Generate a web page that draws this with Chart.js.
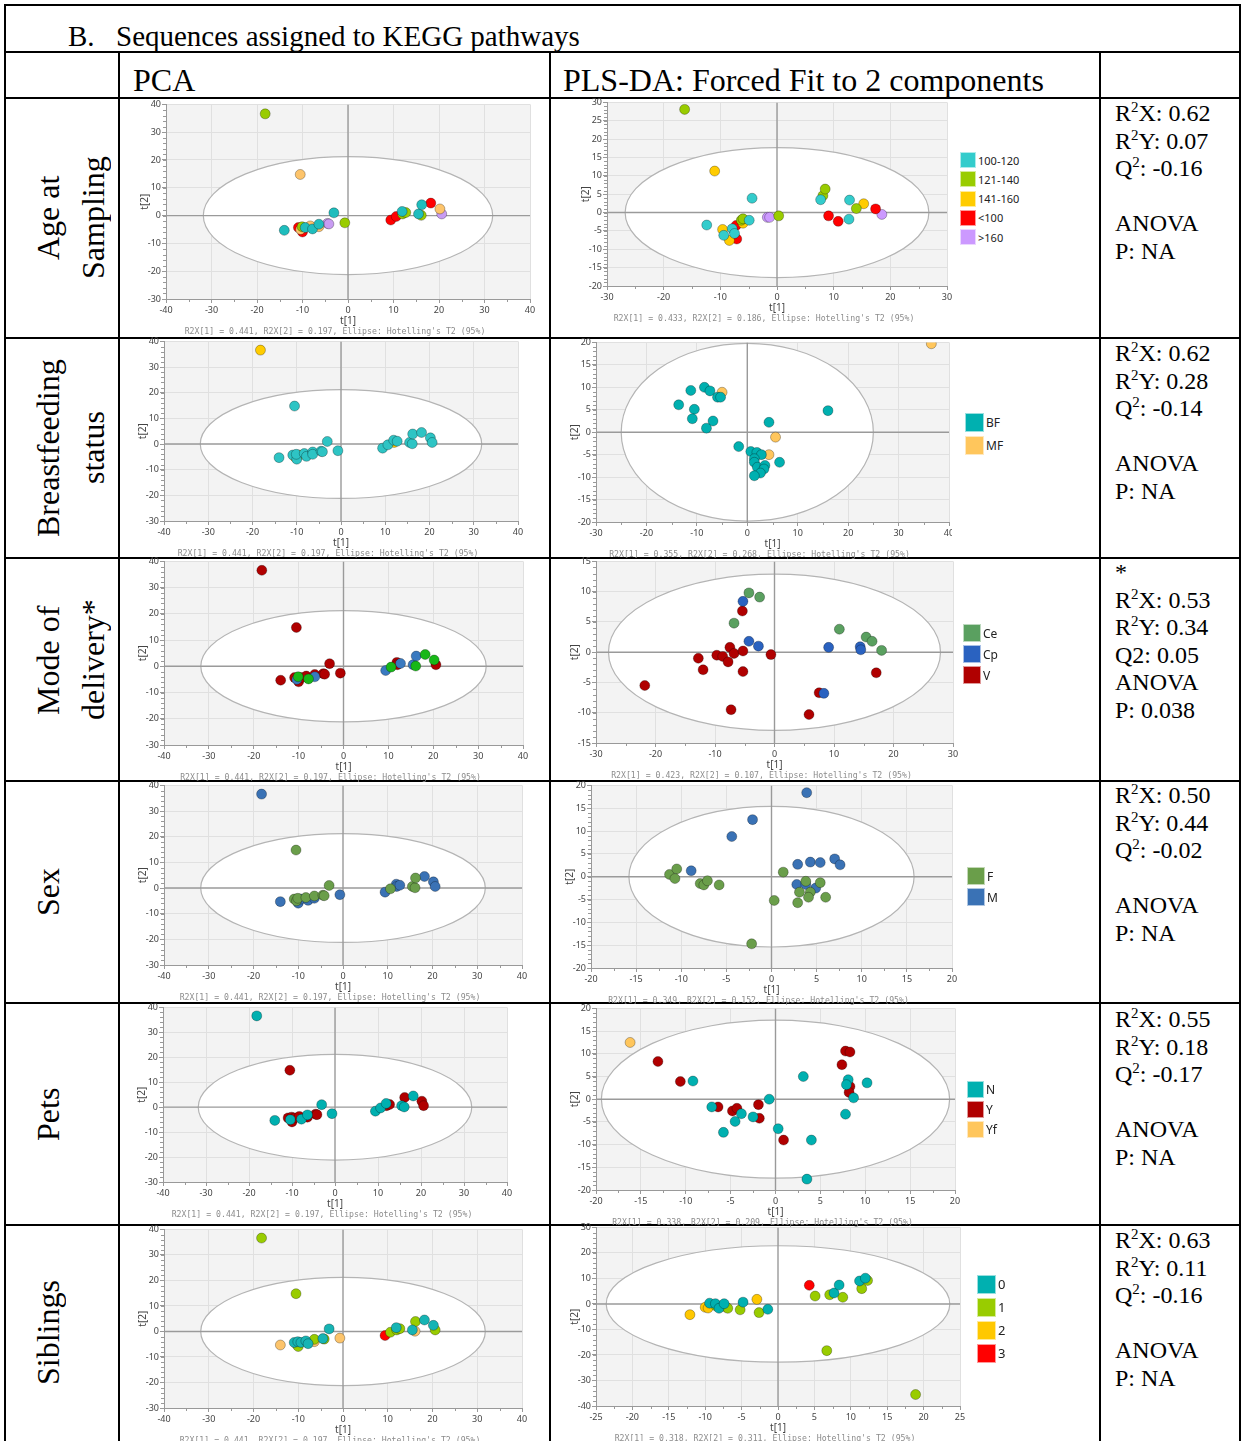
<!DOCTYPE html>
<html>
<head>
<meta charset="utf-8">
<script src="https://cdn.jsdelivr.net/npm/chart.js@4.4.0/dist/chart.umd.min.js"></script>
<style>
body { margin: 0; width: 1241px; height: 1441px; position: relative; overflow: hidden; background: #fff; font-family: 'Liberation Serif', 'Times New Roman', serif; color: #000; }
.hl { position: absolute; height: 1.5px; background: #000; }
.vl { position: absolute; width: 1.5px; background: #000; }
.txt { position: absolute; white-space: nowrap; }
.rowlab { position: absolute; left: 26px; writing-mode: vertical-rl; transform: rotate(180deg); text-align: center; font-size: 32px; line-height: 45px; white-space: nowrap; }
.stats { position: absolute; left: 1115px; font-size: 24px; line-height: 27.6px; white-space: nowrap; }
.s2 { font-size: 15px; line-height: 0; position: relative; top: -9px; }
.chartbox { position: absolute; overflow: hidden; }
.leg { position: absolute; display: flex; align-items: center; font-family: 'Noto Sans', sans-serif; color: #222; white-space: nowrap; }
.leg span { display: inline-block; box-sizing: border-box; border: 1px solid rgba(255,255,255,0.6); margin-right: 2px; }
</style>
</head>
<body>

<!-- table lines -->
<div class="hl" style="left:5px;width:1236px;top:4px"></div>
<div class="hl" style="left:5px;width:1236px;top:51px"></div>
<div class="hl" style="left:5px;width:1236px;top:97px"></div>
<div class="hl" style="left:5px;width:1236px;top:337px"></div>
<div class="hl" style="left:5px;width:1236px;top:557px"></div>
<div class="hl" style="left:5px;width:1236px;top:780px"></div>
<div class="hl" style="left:5px;width:1236px;top:1002px"></div>
<div class="hl" style="left:5px;width:1236px;top:1224px"></div>
<div class="vl" style="left:4px;top:4px;height:1437px"></div>
<div class="vl" style="left:118px;top:51px;height:1390px"></div>
<div class="vl" style="left:549px;top:51px;height:1390px"></div>
<div class="vl" style="left:1099px;top:51px;height:1390px"></div>
<div class="vl" style="left:1239px;top:4px;height:1437px"></div>

<div class="txt" style="left:68px;top:19px;font-size:29px;line-height:34px">B.</div>
<div class="txt" style="left:116px;top:19px;font-size:29px;line-height:34px">Sequences assigned to KEGG pathways</div>
<div class="txt" style="left:133px;top:60px;font-size:32px;line-height:40px">PCA</div>
<div class="txt" style="left:563px;top:60px;font-size:32px;line-height:40px">PLS-DA: Forced Fit to 2 components</div>

<div class="rowlab" style="top:98px;height:240px">Age at<br>Sampling</div>
<div class="rowlab" style="top:338px;height:220px">Breastfeeding<br>status</div>
<div class="rowlab" style="top:558px;height:204px">Mode of<br>delivery*</div>
<div class="rowlab" style="top:781px;height:223px">Sex</div>
<div class="rowlab" style="top:1003px;height:222px">Pets</div>
<div class="rowlab" style="top:1225px;height:216px">Siblings</div>

<div class="stats" style="top:100px">R<span class="s2">2</span>X: 0.62<br>R<span class="s2">2</span>Y: 0.07<br>Q<span class="s2">2</span>: -0.16<br><br>ANOVA<br>P: NA</div>
<div class="stats" style="top:340px">R<span class="s2">2</span>X: 0.62<br>R<span class="s2">2</span>Y: 0.28<br>Q<span class="s2">2</span>: -0.14<br><br>ANOVA<br>P: NA</div>
<div class="stats" style="top:559px">*<br>R<span class="s2">2</span>X: 0.53<br>R<span class="s2">2</span>Y: 0.34<br>Q2: 0.05<br>ANOVA<br>P: 0.038</div>
<div class="stats" style="top:782px">R<span class="s2">2</span>X: 0.50<br>R<span class="s2">2</span>Y: 0.44<br>Q<span class="s2">2</span>: -0.02<br><br>ANOVA<br>P: NA</div>
<div class="stats" style="top:1006px">R<span class="s2">2</span>X: 0.55<br>R<span class="s2">2</span>Y: 0.18<br>Q<span class="s2">2</span>: -0.17<br><br>ANOVA<br>P: NA</div>
<div class="stats" style="top:1227px">R<span class="s2">2</span>X: 0.63<br>R<span class="s2">2</span>Y: 0.11<br>Q<span class="s2">2</span>: -0.16<br><br>ANOVA<br>P: NA</div>

<script>
// PCA scores (same samples in every row, only the colouring changes)
const pcaT1 = [-18.2, -10.5, -14.0, -10.9, -10.4, -10.0, -10.1, -9.4, -8.3, -7.8, -6.4, -6.4, -4.5, -4.2, -3.1, -0.7, 9.4, 10.6, 11.9, 12.0, 12.7, 15.5, 16.1, 16.2, 18.2, 20.2, 20.6];
const pcaT2 = [36.6, 14.8, -5.3, -4.3, -5.0, -5.9, -4.0, -4.3, -3.7, -4.8, -3.1, -4.0, -2.8, -3.0, 1.0, -2.6, -1.6, -0.3, 1.5, 0.6, 1.1, 0.6, 0.1, 3.9, 4.5, 2.4, 0.6];
const pcaCaption = "R2X[1] = 0.441, R2X[2] = 0.197, Ellipse: Hotelling's T2 (95%)";

// Age at sampling
const ageLabels = ['100-120', '121-140', '141-160', '<100', '>160'];
const agePcaGroup = [1, 2, 0, 3, 2, 3, 1, 0, 2, 0, 0, 2, 4, 4, 0, 1, 3, 3, 0, 1, 1, 0, 1, 0, 3, 2, 4];
const agePlsT1 = [-16.3, -11.0, -4.4, -12.4, -9.6, -9.4, -8.4, -7.9, -7.5, -7.2, -7.1, -6.3, -6.0, -6.0, -4.9, -1.7, -1.3, 0.3, 7.7, 8.1, 8.5, 12.8, 12.7, 9.1, 10.8, 14.0, 15.3, 17.4, 18.5];
const agePlsT2 = [28.1, 11.3, 3.9, -3.4, -4.6, -6.2, -7.6, -4.4, -5.7, -3.5, -7.2, -2.1, -1.7, -2.9, -2.1, -1.3, -1.3, -0.9, 3.5, 4.6, 6.4, 3.4, -1.8, -0.9, -2.4, 1.1, 2.4, 1.0, -0.5];
const agePlsGroup = [1, 2, 0, 0, 2, 0, 2, 0, 0, 3, 3, 1, 1, 2, 0, 4, 4, 1, 0, 1, 1, 0, 0, 3, 3, 1, 2, 3, 4];

// Breastfeeding status
const bfLabels = ['BF', 'MF'];
const bfPcaGroup = [1, 0, 0, 0, 1, 0, 0, 1, 0, 0, 0, 0, 0, 0, 0, 0, 0, 0, 0, 1, 0, 0, 0, 0, 0, 0, 0];
const bfPlsT1 = [-11.2, -8.5, -7.4, -5.9, -5.3, -13.6, -10.5, -10.9, -6.8, -8.1, 4.3, 16.0, -1.7, 0.7, 1.9, 2.8, 1.4, 1.4, 2.0, 3.5, 3.3, 2.6, 1.4, 6.4, 36.5, -5.0, 5.6, 4.3];
const bfPlsT2 = [9.3, 10.0, 9.2, 7.8, 7.8, 6.1, 5.1, 3.0, 2.5, 0.9, 2.2, 4.8, -3.2, -4.3, -4.5, -5.0, -5.9, -6.7, -7.8, -7.4, -8.2, -9.1, -9.7, -6.7, 19.7, 8.9, -1.1, -5.0];
const bfPlsGroup = [0, 0, 0, 0, 0, 0, 0, 0, 0, 0, 0, 0, 0, 0, 0, 0, 0, 0, 0, 0, 0, 0, 0, 0, 1, 1, 1, 1];

// Mode of delivery
const modeLabels = ['Ce', 'Cp', 'V'];
const modePcaGroup = [2, 2, 2, 2, 1, 2, 0, 2, 2, 0, 2, 1, 2, 2, 2, 2, 1, 0, 2, 2, 1, 1, 0, 1, 0, 0, 2];
const modePlsT1 = [-4.3, -2.5, -6.8, 10.9, 15.4, 16.4, 18.0, -5.3, -4.3, -2.7, 9.1, 14.4, 14.5, 8.3, -5.4, -7.5, -6.8, -5.3, -12.8, -9.7, -8.7, -7.8, -12.0, -5.3, -0.6, -21.8, -7.3, 5.8, 7.5, 17.1];
const modePlsT2 = [9.8, 9.1, 4.8, 3.8, 2.5, 1.8, 0.3, 8.4, 1.8, 1.0, 0.8, 0.9, 0.4, -6.8, 6.8, 0.8, -0.2, 0.2, -1.0, -0.5, -0.7, -1.6, -2.9, -3.2, -0.4, -5.5, -9.5, -10.3, -6.7, -3.4];
const modePlsGroup = [0, 0, 0, 0, 0, 0, 0, 1, 1, 1, 1, 1, 1, 1, 2, 2, 2, 2, 2, 2, 2, 2, 2, 2, 2, 2, 2, 2, 2, 2];

// Sex
const sexLabels = ['F', 'M'];
const sexPcaGroup = [1, 0, 1, 0, 0, 1, 0, 1, 0, 1, 0, 1, 0, 0, 0, 1, 1, 0, 1, 1, 1, 0, 0, 0, 1, 1, 1];
const sexPlsT1 = [-11.3, -10.5, -10.7, -7.9, -7.5, -7.1, -5.8, 1.3, 3.8, 3.1, 4.3, 4.1, 5.4, 6.0, 0.3, 2.9, -2.2, 3.9, -2.1, -4.4, -8.9, 2.9, 4.3, 5.4, 7.0, 7.6, 2.8, 3.8, 4.9];
const sexPlsT2 = [0.5, 1.7, -0.4, -1.5, -1.8, -0.9, -1.8, 1.0, -1.0, -3.4, -3.4, -4.5, -1.3, -4.5, -5.2, -5.7, -14.7, 18.4, 12.5, 8.8, 1.3, 2.7, 3.2, 3.1, 3.9, 2.6, -1.7, -1.7, -2.5];
const sexPlsGroup = [0, 0, 0, 0, 0, 0, 0, 0, 0, 0, 0, 0, 0, 0, 0, 0, 0, 1, 1, 1, 1, 1, 1, 1, 1, 1, 1, 1, 1];

// Pets
const petsLabels = ['N', 'Y', 'Yf'];
const petsPcaGroup = [0, 1, 0, 1, 0, 1, 1, 1, 1, 0, 0, 1, 1, 1, 0, 0, 0, 0, 0, 1, 1, 0, 0, 1, 0, 1, 1];
const petsPlsT1 = [-9.2, -7.1, -5.8, -4.5, -3.8, -2.5, -0.7, 0.3, 3.1, 4.0, 3.5, 8.1, 7.9, 8.7, 10.2, 7.8, -13.1, -10.6, -6.4, -4.8, -4.3, -1.9, -1.8, 0.9, 7.8, 8.3, 7.4, 8.3, 8.2, -16.2];
const petsPlsT2 = [4.0, -1.7, -7.3, -4.9, -3.2, -3.9, 0.0, -6.5, 5.0, -9.0, -17.6, 4.3, 3.2, 0.3, 3.6, -3.3, 8.3, 3.9, -1.7, -2.6, -2.0, -1.2, -4.2, -9.0, 10.6, 10.4, 7.6, 2.8, 1.5, 12.5];
const petsPlsGroup = [0, 0, 0, 0, 0, 0, 0, 0, 0, 0, 0, 0, 0, 0, 0, 0, 1, 1, 1, 1, 1, 1, 1, 1, 1, 1, 1, 1, 1, 2];

// Siblings
const sibLabels = ['0', '1', '2', '3'];
const sibPcaGroup = [1, 1, 2, 0, 2, 1, 0, 0, 0, 0, 1, 2, 0, 1, 0, 2, 3, 1, 0, 1, 1, 0, 2, 1, 0, 0, 1];
const sibPlsT1 = [-9.4, -8.6, -8.1, -7.4, -4.8, -1.4, 7.7, 8.4, 11.2, 12.0, -8.5, -6.9, -5.2, -2.6, 5.1, 7.1, 8.9, 11.5, 12.3, 6.7, 18.9, -12.1, -10.0, -9.6, -7.1, -2.9, 4.3];
const sibPlsT2 = [0.3, 0.1, -1.7, 0.1, 0.7, -2.1, 4.3, 7.4, 9.0, 10.1, -0.8, -1.7, -2.3, -3.4, 3.1, 3.6, 2.6, 6.0, 9.2, -18.3, -35.5, -4.2, -1.3, -1.6, -1.3, 1.8, 7.3];
const sibPlsGroup = [0, 0, 0, 0, 0, 0, 0, 0, 0, 0, 1, 1, 1, 1, 1, 1, 1, 1, 1, 1, 1, 2, 2, 2, 2, 2, 3];

// colours
const ageColors = ['#33cccc', '#99cc00', '#ffcc00', '#ff0000', '#cc99ff'];
const agePcaColors = ['#1fbdbd', '#99cc00', '#fdc46b', '#ff0000', '#c89cf2'];
const bfColors = ['#00b0b0', '#ffc65c'];
const bfPcaColors = ['#2ec4c4', '#ffcc00'];
const modeColors = ['#5aa060', '#2a62c0', '#b00000'];
const modePcaColors = ['#18b818', '#3a7ac0', '#b00000'];
const sexColors = ['#6a9e4a', '#3a72b5'];
const petsColors = ['#00b0b0', '#b00000', '#ffc65c'];
const sibColors = ['#00b0b0', '#99cc00', '#ffc800', '#ff0000'];
const sibPcaColors = ['#16b4b4', '#99cc00', '#fcc46b', '#ff0000'];

const YW = 36, TP = 6, RP = 10, XH = 42;

// background, Hotelling ellipse, zero lines, minor ticks, caption
const hotellingPlugin = {
    id: 'hotelling',
    beforeDraw(chart) {
        const { ctx, chartArea: ca } = chart;
        ctx.save();
        ctx.fillStyle = '#f3f3f3';
        ctx.fillRect(ca.left, ca.top, ca.right - ca.left, ca.bottom - ca.top);
        ctx.restore();
    },
    beforeDatasetsDraw(chart, args, opts) {
        const { ctx, chartArea: ca, scales: { x, y } } = chart;
        const cx = x.getPixelForValue(0), cy = y.getPixelForValue(0);
        const rx = Math.abs(x.getPixelForValue(opts.a) - cx);
        const ry = Math.abs(y.getPixelForValue(opts.b) - cy);
        ctx.save();
        ctx.beginPath();
        ctx.rect(ca.left, ca.top, ca.right - ca.left, ca.bottom - ca.top);
        ctx.clip();
        ctx.beginPath();
        ctx.ellipse(cx, cy, rx, ry, 0, 0, Math.PI * 2);
        ctx.fillStyle = '#ffffff';
        ctx.fill();
        ctx.strokeStyle = '#b4b4b4';
        ctx.lineWidth = 1.2;
        ctx.stroke();
        ctx.strokeStyle = '#9a9a9a';
        ctx.lineWidth = 1.4;
        ctx.beginPath();
        ctx.moveTo(ca.left, cy); ctx.lineTo(ca.right, cy);
        ctx.moveTo(cx, ca.top); ctx.lineTo(cx, ca.bottom);
        ctx.stroke();
        ctx.restore();
    },
    afterDraw(chart, args, opts) {
        const { ctx, chartArea: ca, scales: { x, y } } = chart;
        ctx.save();
        ctx.strokeStyle = '#999';
        ctx.lineWidth = 1;
        ctx.beginPath();
        const xs = x.options.ticks.stepSize / 2;
        for (let v = x.min + xs; v < x.max; v += xs * 2) {
            const px = Math.round(x.getPixelForValue(v)) + 0.5;
            ctx.moveTo(px, ca.bottom); ctx.lineTo(px, ca.bottom + 3);
        }
        const ys = y.options.ticks.stepSize / 5;
        for (let v = y.min; v < y.max; v += ys) {
            const py = Math.round(y.getPixelForValue(v)) + 0.5;
            ctx.moveTo(ca.left, py); ctx.lineTo(ca.left - 3, py);
        }
        ctx.stroke();
        ctx.fillStyle = '#8c8c8c';
        ctx.font = "8.2px 'DejaVu Sans Mono', monospace";
        ctx.textAlign = 'center';
        ctx.textBaseline = 'middle';
        ctx.fillText(opts.caption, chart.width / 2, ca.bottom + 33);
        ctx.restore();
    }
};

function makeSets(xs, ys, groups, labels, colors) {
    return labels.map((lab, k) => ({
        label: lab,
        data: xs.map((v, i) => ({ x: v, y: ys[i], g: groups[i] })).filter(p => p.g === k),
        backgroundColor: colors[k],
        borderColor: 'rgba(0,0,0,0.28)',
        borderWidth: 1,
        pointRadius: 5,
        pointHoverRadius: 5
    }));
}

function axis(range, title, isX) {
    const tickFont = { family: 'Noto Sans', size: 9 };
    return {
        type: 'linear',
        min: range[0],
        max: range[1],
        ticks: { stepSize: range[2], font: tickFont, color: '#444', padding: isX ? 2 : 1, maxRotation: 0, autoSkip: false },
        grid: { color: '#e0e0e0', tickColor: '#999', tickLength: 4 },
        border: { color: '#999' },
        title: {
            display: true, text: title, color: '#444',
            font: { family: 'Noto Sans', size: 10 },
            padding: isX ? { top: 0, bottom: 14 } : { top: 9, bottom: 0 }
        },
        afterFit(s) {
            if (isX) s.height = XH; else s.width = YW;
        }
    };
}

function drawPanel(p) {
    const [l, t, r, b] = p.rect;
    const cw = r - l + YW + RP, chh = b - t + TP + XH;
    const box = document.createElement('div');
    box.className = 'chartbox';
    box.style.left = (l - YW) + 'px';
    box.style.top = (t - TP) + 'px';
    box.style.width = (p.clipW || cw) + 'px';
    box.style.height = chh + 'px';
    const cv = document.createElement('canvas');
    cv.width = cw; cv.height = chh;
    cv.style.width = cw + 'px'; cv.style.height = chh + 'px';
    box.appendChild(cv);
    document.body.appendChild(box);
    new Chart(cv, {
        type: 'scatter',
        data: { datasets: makeSets(p.xs, p.ys, p.groups, p.labels, p.colors) },
        options: {
            responsive: false,
            maintainAspectRatio: false,
            animation: false,
            layout: { padding: { top: TP, right: RP, left: 0, bottom: 0 } },
            scales: { x: axis(p.xr, 't[1]', true), y: axis(p.yr, 't[2]', false) },
            plugins: {
                legend: { display: false },
                tooltip: { enabled: false },
                hotelling: { a: p.ell[0], b: p.ell[1], caption: p.caption }
            }
        },
        plugins: [hotellingPlugin]
    });
}

function drawLegend(labels, colors, pos) {
    labels.forEach((lab, k) => {
        const row = document.createElement('div');
        row.className = 'leg';
        row.style.left = pos.x + 'px';
        row.style.top = (pos.y + k * pos.gap - pos.size / 2) + 'px';
        row.style.height = pos.size + 'px';
        row.style.fontSize = pos.font + 'px';
        const sw = document.createElement('span');
        sw.style.width = pos.size + 'px';
        sw.style.height = pos.size + 'px';
        sw.style.background = colors[k];
        row.appendChild(sw);
        row.appendChild(document.createTextNode(lab));
        document.body.appendChild(row);
    });
}

const pcaX = [-40, 40, 10], pcaY = [-30, 40, 10], pcaEll = [31.8, 21.2];

// row 1: age
drawPanel({ rect: [166, 104, 530, 299], xs: pcaT1, ys: pcaT2, groups: agePcaGroup, labels: ageLabels, colors: agePcaColors, xr: pcaX, yr: pcaY, ell: pcaEll, caption: pcaCaption });
drawPanel({ rect: [607, 102, 947, 286], xs: agePlsT1, ys: agePlsT2, groups: agePlsGroup, labels: ageLabels, colors: ageColors, xr: [-30, 30, 10], yr: [-20, 30, 5], ell: [26.8, 17.7], caption: "R2X[1] = 0.433, R2X[2] = 0.186, Ellipse: Hotelling's T2 (95%)" });
drawLegend(ageLabels, ageColors, { x: 960, y: 160, gap: 19.3, size: 16, font: 11 });

// row 2: breastfeeding
drawPanel({ rect: [164, 341, 518, 521], xs: pcaT1, ys: pcaT2, groups: bfPcaGroup, labels: bfLabels, colors: bfPcaColors, xr: pcaX, yr: pcaY, ell: pcaEll, caption: pcaCaption });
drawPanel({ rect: [596, 342, 949, 522], xs: bfPlsT1, ys: bfPlsT2, groups: bfPlsGroup, labels: bfLabels, colors: bfColors, xr: [-30, 40, 10], yr: [-20, 20, 5], ell: [25.0, 19.8], caption: "R2X[1] = 0.355, R2X[2] = 0.268, Ellipse: Hotelling's T2 (95%)", clipW: 392 });
drawLegend(bfLabels, bfColors, { x: 965, y: 422, gap: 23, size: 19, font: 12 });

// row 3: mode of delivery
drawPanel({ rect: [164, 561, 523, 745], xs: pcaT1, ys: pcaT2, groups: modePcaGroup, labels: modeLabels, colors: modePcaColors, xr: pcaX, yr: pcaY, ell: pcaEll, caption: pcaCaption });
drawPanel({ rect: [596, 561, 953, 743], xs: modePlsT1, ys: modePlsT2, groups: modePlsGroup, labels: modeLabels, colors: modeColors, xr: [-30, 30, 10], yr: [-15, 15, 5], ell: [27.9, 12.9], caption: "R2X[1] = 0.423, R2X[2] = 0.107, Ellipse: Hotelling's T2 (95%)" });
drawLegend(modeLabels, modeColors, { x: 963, y: 633, gap: 21, size: 18, font: 12 });

// row 4: sex
drawPanel({ rect: [164, 785, 522, 965], xs: pcaT1, ys: pcaT2, groups: sexPcaGroup, labels: sexLabels, colors: sexColors, xr: pcaX, yr: pcaY, ell: pcaEll, caption: pcaCaption });
drawPanel({ rect: [591, 785, 952, 968], xs: sexPlsT1, ys: sexPlsT2, groups: sexPlsGroup, labels: sexLabels, colors: sexColors, xr: [-20, 20, 5], yr: [-20, 20, 5], ell: [15.8, 15.4], caption: "R2X[1] = 0.349, R2X[2] = 0.152, Ellipse: Hotelling's T2 (95%)" });
drawLegend(sexLabels, sexColors, { x: 967, y: 876, gap: 21, size: 18, font: 12 });

// row 5: pets
drawPanel({ rect: [163, 1007, 507, 1182], xs: pcaT1, ys: pcaT2, groups: petsPcaGroup, labels: petsLabels, colors: petsColors, xr: pcaX, yr: pcaY, ell: pcaEll, caption: pcaCaption });
drawPanel({ rect: [596, 1008, 955, 1190], xs: petsPlsT1, ys: petsPlsT2, groups: petsPlsGroup, labels: petsLabels, colors: petsColors, xr: [-20, 20, 5], yr: [-20, 20, 5], ell: [19.4, 17.4], caption: "R2X[1] = 0.338, R2X[2] = 0.209, Ellipse: Hotelling's T2 (95%)" });
drawLegend(petsLabels, petsColors, { x: 967, y: 1089, gap: 20, size: 17, font: 12 });

// row 6: siblings
drawPanel({ rect: [164, 1229, 522, 1408], xs: pcaT1, ys: pcaT2, groups: sibPcaGroup, labels: sibLabels, colors: sibPcaColors, xr: pcaX, yr: pcaY, ell: pcaEll, caption: pcaCaption });
drawPanel({ rect: [596, 1227, 960, 1406], xs: sibPlsT1, ys: sibPlsT2, groups: sibPlsGroup, labels: sibLabels, colors: sibColors, xr: [-25, 25, 5], yr: [-40, 30, 10], ell: [23.6, 22.8], caption: "R2X[1] = 0.318, R2X[2] = 0.311, Ellipse: Hotelling's T2 (95%)" });
drawLegend(sibLabels, sibColors, { x: 977, y: 1284, gap: 23, size: 19, font: 13 });
</script>
</body>
</html>
